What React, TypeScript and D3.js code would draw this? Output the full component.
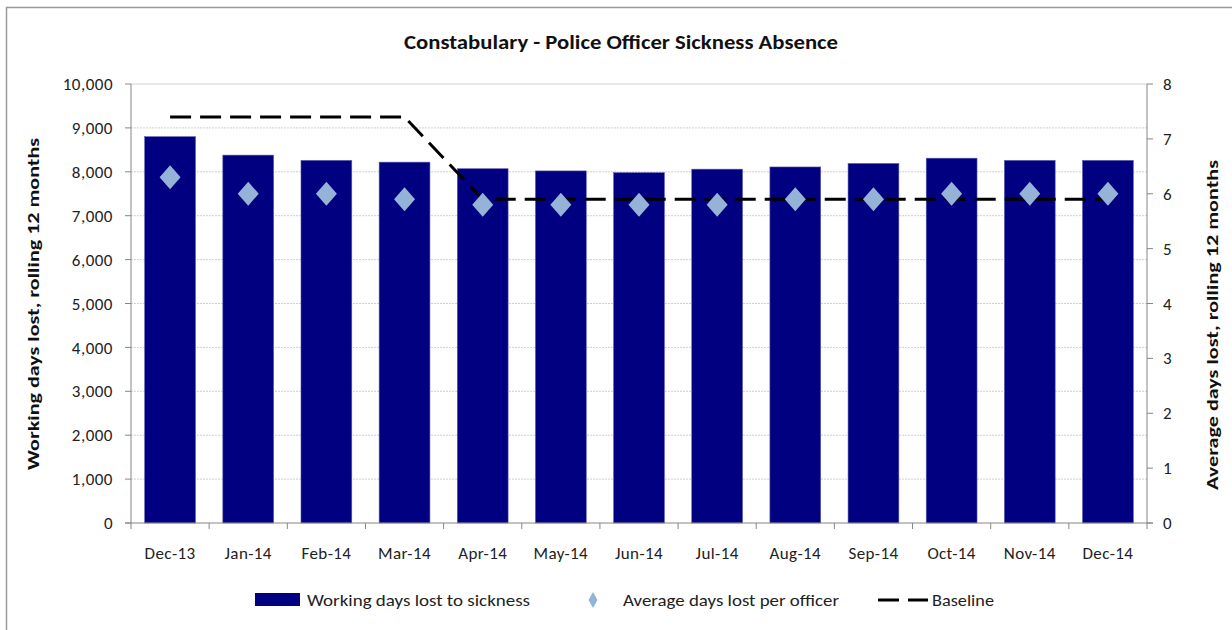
import React from 'react';
import * as d3 from 'd3';

const months = ['Dec-13', 'Jan-14', 'Feb-14', 'Mar-14', 'Apr-14', 'May-14', 'Jun-14', 'Jul-14', 'Aug-14', 'Sep-14', 'Oct-14', 'Nov-14', 'Dec-14'];
const daysLost = [8800, 8380, 8260, 8220, 8070, 8020, 7980, 8060, 8110, 8190, 8310, 8260, 8260];
const avgPerOfficer = [6.3, 6.0, 6.0, 5.9, 5.8, 5.8, 5.8, 5.8, 5.9, 5.9, 6.0, 6.0, 6.0];
const baseline = [7.4, 7.4, 7.4, 7.4, 5.9, 5.9, 5.9, 5.9, 5.9, 5.9, 5.9, 5.9, 5.9];
const leftTicks = [0, 1000, 2000, 3000, 4000, 5000, 6000, 7000, 8000, 9000, 10000];
const rightTicks = [0, 1, 2, 3, 4, 5, 6, 7, 8];

const font = "Carlito, 'Liberation Sans Narrow', 'Open Sans', sans-serif";

export default function App() {
  const width = 1232;
  const height = 630;
  const left = 131;
  const right = 1147;
  const top = 84;
  const bottom = 523;

  const x = d3.scaleBand().domain(months).range([left, right]).paddingInner(0.35).paddingOuter(0.175);
  const yL = d3.scaleLinear().domain([0, 10000]).range([bottom, top]);
  const yR = d3.scaleLinear().domain([0, 8]).range([bottom, top]);
  const cx = (m) => x(m) + x.bandwidth() / 2;
  const step = x.step();

  const baseLine = d3.line().x((d, i) => cx(months[i])).y((d) => yR(d))(baseline);
  const diamond = (px, py, w, h) => `M${px},${py - h} L${px + w},${py} L${px},${py + h} L${px - w},${py} Z`;
  const fmt = d3.format(',');

  return (
    <svg width={width} height={height} style={{ position: 'absolute', left: 0, top: 0, background: '#fff' }} fontFamily={font}>
      <line x1={6} y1={7.5} x2={width} y2={7.5} stroke="#9a9a9a" strokeWidth={1.5} />
      <line x1={6.5} y1={7} x2={6.5} y2={height} stroke="#9a9a9a" strokeWidth={1.5} />

      <text x={404} y={49} fontSize={20} fontWeight="bold" fill="#111" textLength={434} lengthAdjust="spacingAndGlyphs">
        Constabulary - Police Officer Sickness Absence
      </text>

      {leftTicks.slice(1).map((t) => (
        <line key={t} x1={left} x2={right} y1={yL(t)} y2={yL(t)} stroke="#cfcfcf" strokeWidth={1} strokeDasharray={t === 10000 ? null : '2,1'} />
      ))}

      {months.map((m, i) => (
        <rect key={m} x={x(m)} y={yL(daysLost[i])} width={x.bandwidth()} height={bottom - yL(daysLost[i])} fill="#000080" stroke="#5b5bb0" strokeWidth={0.6} />
      ))}

      <path d={baseLine} fill="none" stroke="#000" strokeWidth={3} strokeDasharray="21,9" />

      {months.map((m, i) => (
        <path key={m} d={diamond(cx(m), yR(avgPerOfficer[i]), 10.5, 12)} fill="#95b3d7" />
      ))}

      <line x1={left} x2={left} y1={top} y2={bottom} stroke="#868686" />
      <line x1={right} x2={right} y1={top} y2={bottom} stroke="#868686" />
      <line x1={left - 6} x2={right + 6} y1={bottom} y2={bottom} stroke="#868686" />

      {leftTicks.map((t) => (
        <g key={t}>
          <line x1={left - 6} x2={left} y1={yL(t)} y2={yL(t)} stroke="#868686" />
          <text x={113} y={yL(t)} dy="0.36em" textAnchor="end" fontSize={17} letterSpacing={0.5} fill="#222">{fmt(t)}</text>
        </g>
      ))}
      {rightTicks.map((t) => (
        <g key={t}>
          <line x1={right} x2={right + 6} y1={yR(t)} y2={yR(t)} stroke="#868686" />
          <text x={1163} y={yR(t)} dy="0.36em" textAnchor="start" fontSize={17} fill="#222">{t}</text>
        </g>
      ))}
      {months.map((m, i) => (
        <g key={m}>
          <line x1={x(m) - step * 0.175} x2={x(m) - step * 0.175} y1={bottom} y2={bottom + 6} stroke="#868686" />
          <text x={cx(m)} y={559} textAnchor="middle" fontSize={17} letterSpacing={0.4} fill="#222">{m}</text>
        </g>
      ))}
      <line x1={right} x2={right} y1={bottom} y2={bottom + 6} stroke="#868686" />

      <text transform="translate(39,470) rotate(-90)" fontSize={16} fontWeight="bold" fill="#111" textLength={332} lengthAdjust="spacingAndGlyphs">
        Working days  lost, rolling 12 months
      </text>
      <text transform="translate(1218,490) rotate(-90)" fontSize={16} fontWeight="bold" fill="#111" textLength={330} lengthAdjust="spacingAndGlyphs">
        Average days  lost, rolling 12 months
      </text>

      <g fontSize={17} fill="#222">
        <rect x={255} y={593} width={45} height={13} fill="#000080" />
        <text x={307} y={600} dy="0.36em" textLength={223} lengthAdjust="spacingAndGlyphs">Working days lost to sickness</text>
        <path d={diamond(593, 600, 4.5, 8)} fill="#95b3d7" />
        <text x={623} y={600} dy="0.36em" textLength={216} lengthAdjust="spacingAndGlyphs">Average days lost per officer</text>
        <line x1={878} x2={899} y1={600} y2={600} stroke="#000" strokeWidth={3} />
        <line x1={908} x2={928} y1={600} y2={600} stroke="#000" strokeWidth={3} />
        <text x={932} y={600} dy="0.36em" textLength={62} lengthAdjust="spacingAndGlyphs">Baseline</text>
      </g>
    </svg>
  );
}
